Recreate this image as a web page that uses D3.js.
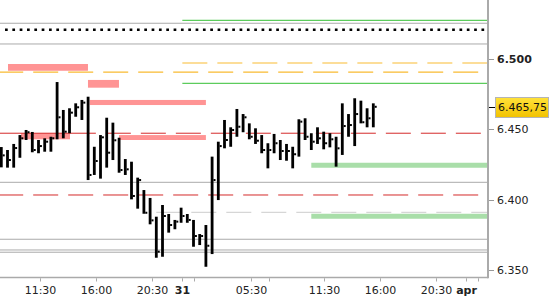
<!DOCTYPE html>
<html lang="en">
<head>
    <meta charset="UTF-8">
    <title>Futures bar chart</title>
    <script src="https://d3js.org/d3.v7.min.js"></script>
    <style>
        body, html { margin: 0; padding: 0; background: #fff; }
        svg { display: block; font-family: "DejaVu Sans", Verdana, sans-serif; }
    </style>
</head>
<body>
    <script>
        // Chart size
        const width = 550;
        const height = 300;
        const plotRight = 488;
        const plotBottom = 277.5;

        // Bars: high / low / close (30 min bars, index = bar number)
        const highs = [6437.2, 6435.1, 6439.4, 6445.7, 6449.3, 6447.9, 6442.2, 6443.4, 6444.5, 6483.3,
                       6463.5, 6464.7, 6468.2, 6470.6, 6472.9, 6437.4, 6445.7, 6458.0, 6454.5, 6443.8,
                       6428.7, 6426.8, 6415.5, 6406.7, 6401.1, 6387.8, 6396.1, 6389.7, 6385.5, 6394.2,
                       6389.7, 6385.5, 6375.5, 6381.9, 6430.4, 6441.0, 6456.4, 6451.2, 6464.2, 6460.6,
                       6454.0, 6450.5, 6445.7, 6439.9, 6446.5, 6442.2, 6439.4, 6437.4, 6456.9, 6457.6,
                       6447.0, 6451.2, 6448.1, 6447.0, 6444.5, 6468.2, 6460.6, 6471.8, 6470.1, 6464.7, 6468.2];
        const lows  = [6422.8, 6422.6, 6422.6, 6429.6, 6442.2, 6433.5, 6432.8, 6433.9, 6433.9, 6442.7,
                       6443.4, 6447.0, 6458.7, 6456.4, 6413.8, 6417.4, 6414.8, 6422.6, 6428.0, 6419.0,
                       6417.4, 6400.1, 6393.5, 6389.9, 6382.4, 6358.7, 6359.4, 6376.5, 6378.9, 6383.5,
                       6383.5, 6366.5, 6367.7, 6352.3, 6361.3, 6399.6, 6436.3, 6437.4, 6444.5, 6447.7,
                       6442.7, 6439.4, 6432.8, 6422.1, 6432.8, 6428.0, 6427.5, 6422.1, 6430.4, 6442.2,
                       6435.1, 6439.4, 6435.6, 6437.0, 6423.3, 6431.6, 6444.5, 6437.9, 6454.0, 6451.2, 6451.2];
        const closes = [6431.3, 6428.0, 6436.5, 6443.4, 6447.7, 6435.1, 6437.9, 6441.0, 6443.4, 6458.3,
                        6448.1, 6461.6, 6465.4, 6468.7, 6417.4, 6427.3, 6444.1, 6433.2, 6442.0, 6420.9,
                        6421.4, 6402.5, 6413.8, 6390.6, 6385.2, 6363.0, 6388.3, 6381.9, 6384.3, 6388.3,
                        6385.5, 6374.1, 6374.1, 6367.2, 6413.8, 6437.9, 6442.2, 6449.3, 6451.6, 6458.3,
                        6444.5, 6441.7, 6435.1, 6435.1, 6439.9, 6434.4, 6434.4, 6432.1, 6455.2, 6444.5,
                        6441.0, 6443.4, 6439.9, 6442.7, 6436.3, 6452.1, 6452.8, 6460.6, 6454.8, 6457.6, 6465.75];
        const lastPrice = 6465.75;

        // X axis ticks (bar index) and labels
        const xTickPos = [6.3, 15.25, 24.25, 29.2, 31, 40.2, 43.1, 52, 61.1, 70.1, 75, 76.9];
        const xTickLabels = ["11:30", "16:00", "20:30", "31", "", "05:30", "", "11:30", "16:00", "20:30", "apr", ""];
        const xTickBold = ["31", "apr"];

        // Y axis ticks
        const yTicks = [6350, 6400, 6450, 6500];
        const yTickLabels = ["6.350", "6.400", "6.450", "6.500"];

        // Horizontal reference levels
        const grayLevels = [6525.0, 6510.3, 6412.2, 6371.8, 6364.2, 6362.6];
        const greenLevels = [6527.1, 6482.4];
        const greenStart = 29.2;
        const dottedLevel = 6520.4;
        const orangeLevels = [6496.8, 6490.4];
        const orangeStarts = [29.2, -0.5];
        const redLevels = [6447.0, 6403.2];
        const redSolidEnd = 15.25;   // upper red line is solid up to here
        const lightDashLevel = 6390.9;
        const lightDashStart = 25;
        const bandLevels = [6424.3, 6388.1];
        const bandStart = 50;

        // Pink zones: start bar, end bar, top, bottom
        const zoneStart = [1.08, 13.98, 14.26, 3.18, 18.98];
        const zoneEnd   = [13.98, 18.98, 33.0, 11.08, 33.0];
        const zoneTop   = [6496.1, 6484.8, 6470.6, 6447.0, 6445.7];
        const zoneBot   = [6491.3, 6479.3, 6467.0, 6442.7, 6442.2];

        const svg = d3.select("body").append("svg")
            .attr("width", width)
            .attr("height", height);

        const x = d3.scaleLinear().domain([-0.21, 78.5]).range([0, plotRight]);
        const y = d3.scaleLinear().domain([6350, 6500]).range([270, 58.5]);

        const plot = svg.append("g");

        function hline(level, from, color, w, dash, offset) {
            const l = plot.append("line")
                .attr("x1", x(from)).attr("x2", plotRight - 1)
                .attr("y1", y(level)).attr("y2", y(level))
                .attr("stroke", color).attr("stroke-width", w);
            if (dash) l.attr("stroke-dasharray", dash);
            if (offset) l.attr("stroke-dashoffset", offset);
            return l;
        }

        // gray support lines
        grayLevels.forEach(v => hline(v, -0.21, "#aaaaaa", 1));

        // pink zones
        plot.selectAll("rect.zone")
            .data(zoneStart.map((s, i) => ({ s, e: zoneEnd[i], t: zoneTop[i], b: zoneBot[i] })))
            .enter().append("rect")
            .attr("class", "zone")
            .attr("x", d => x(d.s))
            .attr("width", d => x(d.e) - x(d.s))
            .attr("y", d => y(d.t))
            .attr("height", d => y(d.b) - y(d.t))
            .attr("fill", "#ff9494");

        // green bands
        bandLevels.forEach(v => hline(v, bandStart, "#a9dea9", 5));

        // thin green lines
        greenLevels.forEach(v => hline(v, greenStart, "#5ccc5c", 1.2));

        // black dotted line
        hline(dottedLevel, 0.6, "#000", 2.5, "2.7,4.63");

        // orange dashed
        orangeLevels.forEach((v, i) => hline(v, orangeStarts[i], "#f9bb32", 1.2, "25,10"));

        // light gray dashed
        hline(lightDashLevel, lightDashStart, "#d6d6d6", 1.2, "25,10");

        // red lines
        plot.append("line")
            .attr("x1", 0).attr("x2", x(redSolidEnd))
            .attr("y1", y(redLevels[0])).attr("y2", y(redLevels[0]))
            .attr("stroke", "#d42a2a").attr("stroke-width", 1);
        hline(redLevels[0], redSolidEnd, "#d42a2a", 1, "25,10", 25);
        hline(redLevels[1], -0.5, "#d42a2a", 1, "25,10");

        // OHLC bars (high-low stick + close tick)
        const bars = highs.map((h, i) => ({ i, h, l: lows[i], c: closes[i] }));
        const barW = 2.8;
        plot.selectAll("rect.bar")
            .data(bars)
            .enter().append("rect")
            .attr("class", "bar")
            .attr("x", d => x(d.i) - barW / 2)
            .attr("width", barW)
            .attr("y", d => y(d.h))
            .attr("height", d => y(d.l) - y(d.h))
            .attr("fill", "#000");
        plot.selectAll("rect.close")
            .data(bars)
            .enter().append("rect")
            .attr("class", "close")
            .attr("x", d => x(d.i) + barW / 2)
            .attr("width", 2)
            .attr("y", d => y(d.c) - 1)
            .attr("height", 2)
            .attr("fill", "#000");

        // axes frame
        svg.append("line")
            .attr("x1", 0).attr("x2", plotRight)
            .attr("y1", plotBottom).attr("y2", plotBottom)
            .attr("stroke", "#aaaaaa").attr("stroke-width", 1.5);
        svg.append("line")
            .attr("x1", plotRight).attr("x2", plotRight)
            .attr("y1", 0).attr("y2", plotBottom + 0.75)
            .attr("stroke", "#aaaaaa").attr("stroke-width", 2);

        // x ticks and labels
        const xt = svg.append("g").selectAll("g")
            .data(xTickPos.map((p, i) => ({ p, label: xTickLabels[i] })))
            .enter().append("g")
            .attr("transform", d => `translate(${Math.round(x(d.p)) + 0.5},0)`);
        xt.append("line")
            .attr("y1", plotBottom + 0.75).attr("y2", plotBottom + 4)
            .attr("stroke", "#aaaaaa");
        xt.append("text")
            .attr("y", 294)
            .attr("text-anchor", "middle")
            .attr("font-size", 11)
            .attr("font-weight", d => xTickBold.includes(d.label) ? "bold" : "normal")
            .attr("fill", "#222")
            .text(d => d.label);

        // y ticks and labels
        const yt = svg.append("g").selectAll("g")
            .data(yTicks.map((v, i) => ({ v, label: yTickLabels[i] })))
            .enter().append("g")
            .attr("transform", d => `translate(0,${Math.round(y(d.v)) + 0.5})`);
        yt.append("line")
            .attr("x1", plotRight + 1).attr("x2", plotRight + 6)
            .attr("stroke", "#999");
        yt.append("text")
            .attr("x", 497)
            .attr("dy", "0.35em")
            .attr("font-size", 11)
            .attr("font-weight", d => d.v === 6500 ? "bold" : "normal")
            .attr("fill", "#222")
            .text(d => d.label);

        // last price marker
        const grad = svg.append("defs").append("linearGradient")
            .attr("id", "gold").attr("x1", 0).attr("x2", 0).attr("y1", 0).attr("y2", 1);
        grad.append("stop").attr("offset", "0%").attr("stop-color", "#ffe23a");
        grad.append("stop").attr("offset", "100%").attr("stop-color", "#f2c200");
        const py = y(lastPrice);
        svg.append("line")
            .attr("x1", plotRight + 1).attr("x2", plotRight + 7)
            .attr("y1", Math.round(py) + 0.5).attr("y2", Math.round(py) + 0.5)
            .attr("stroke", "#000");
        svg.append("rect")
            .attr("x", 495.5).attr("y", Math.round(py) - 9.5)
            .attr("width", 53).attr("height", 20)
            .attr("fill", "url(#gold)")
            .attr("stroke", "#b5b5b5");
        svg.append("text")
            .attr("x", 498).attr("y", py)
            .attr("dy", "0.4em")
            .attr("font-size", 11)
            .attr("fill", "#111")
            .text("6.465,75");
    </script>
</body>
</html>
